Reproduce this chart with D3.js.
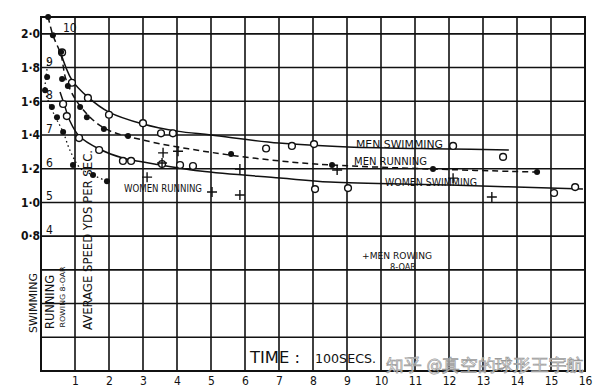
<!DOCTYPE html>
<html>
<head>
<meta charset="utf-8">
<script src="https://cdn.jsdelivr.net/npm/d3@7"></script>
<style>
  body { margin: 0; background: #fff; }
  text { font-family: "DejaVu Sans Condensed", "DejaVu Sans", sans-serif; fill: #111; }
</style>
</head>
<body>
<svg width="600" height="392"></svg>
<script>
// time in units of 100 secs; swimming speeds on the outer scale, running / rowing on the inner one
var timeTicks = [1, 2, 3, 4, 5, 6, 7, 8, 9, 10, 11, 12, 13, 14, 15, 16];
var swimTicks = [0.8, 1.0, 1.2, 1.4, 1.6, 1.8, 2.0];
var runTicks = [4, 5, 6, 7, 8, 9, 10];

var menSwimming = [[0.62, 1.89], [0.91, 1.71], [1.38, 1.62], [2.0, 1.52], [3.0, 1.47], [3.53, 1.41],
  [3.88, 1.41], [6.62, 1.32], [7.38, 1.335], [8.03, 1.346], [12.12, 1.335], [13.59, 1.27]];
var menSwimCurve = [[0.56, 1.9], [0.91, 1.726], [1.38, 1.625], [2.0, 1.536], [3.0, 1.465], [4.0, 1.423],
  [5.0, 1.40], [7.0, 1.352], [9.03, 1.329], [12.03, 1.317], [13.76, 1.311]];

var womenSwimming = [[0.65, 1.584], [0.76, 1.512], [1.12, 1.382], [1.71, 1.311], [2.41, 1.246], [2.65, 1.246],
  [3.56, 1.228], [4.09, 1.222], [4.47, 1.216], [8.06, 1.079], [9.03, 1.085], [15.09, 1.056], [15.71, 1.091]];
var womenSwimCurve = [[0.56, 1.655], [0.68, 1.584], [0.85, 1.483], [1.12, 1.394], [1.71, 1.317], [2.41, 1.263],
  [3.0, 1.24], [4.68, 1.186], [7.03, 1.145], [8.5, 1.121], [12.03, 1.103], [15.94, 1.079]];

var menRunning = [[0.21, 10.5], [0.35, 9.96], [0.59, 9.46], [0.62, 8.66], [0.79, 8.45], [1.15, 7.83],
  [1.35, 7.53], [1.85, 7.18], [2.56, 6.97], [5.59, 6.44], [8.56, 6.11], [11.53, 5.99], [14.59, 5.9]];
var menRunCurve = [[0.21, 10.5], [0.35, 9.96], [0.59, 9.37], [0.74, 8.63], [1.15, 7.86], [1.85, 7.21],
  [3.0, 6.85], [4.97, 6.49], [7.03, 6.23], [8.56, 6.11], [11.53, 5.99], [14.59, 5.9]];

var womenRunning = [[0.18, 8.72], [0.12, 8.33], [0.32, 7.83], [0.47, 7.53], [0.65, 7.09], [0.94, 6.11],
  [1.53, 5.81], [1.94, 5.63]];
var womenRunCurve = [[0.21, 9.22], [0.15, 8.72], [0.12, 8.33], [0.26, 7.89], [0.44, 7.5], [0.65, 7.09],
  [0.85, 6.55], [1.15, 6.02], [1.53, 5.81], [1.94, 5.63]];

var menRowing = [[3.12, 5.75], [3.59, 6.47], [3.56, 6.17], [4.03, 6.52], [5.03, 5.31], [5.85, 5.99],
  [5.85, 5.22], [8.71, 5.96], [12.12, 5.72], [13.26, 5.16]];

var svg = d3.select("svg");
var plotLeft = 41, plotRight = 585, plotTop = 17, plotBottom = 371;

var x = d3.scaleLinear().domain([0, 16]).range([plotLeft, plotRight]);
var ySwim = d3.scaleLinear().domain([0, 2.1]).range([plotBottom, plotTop]);
var yRun = d3.scaleLinear().domain([0, 10.5]).range([plotBottom, plotTop]);

var ink = "#111";

// grid
var grid = svg.append("g").attr("stroke", ink).attr("stroke-width", 1.6);
grid.selectAll(".v").data(d3.range(1, 16)).enter().append("line")
  .attr("x1", function(d) { return x(d); }).attr("x2", function(d) { return x(d); })
  .attr("y1", plotTop).attr("y2", plotBottom);
grid.selectAll(".h").data(d3.range(1, 11).map(function(d) { return d * 0.2; })).enter().append("line")
  .attr("x1", plotLeft).attr("x2", plotRight)
  .attr("y1", function(d) { return ySwim(d); }).attr("y2", function(d) { return ySwim(d); });
grid.append("rect").attr("x", plotLeft).attr("y", plotTop)
  .attr("width", plotRight - plotLeft).attr("height", plotBottom - plotTop)
  .attr("fill", "none").attr("stroke-width", 2);

// axes
var xAxis = svg.append("g")
  .attr("transform", "translate(0," + plotBottom + ")")
  .call(d3.axisBottom(x).tickValues(timeTicks).tickSize(0).tickPadding(5).tickFormat(d3.format("d")));
xAxis.select(".domain").remove();
xAxis.selectAll("text").attr("font-size", 12).attr("fill", ink);

var yAxis = svg.append("g")
  .attr("transform", "translate(" + plotLeft + ",0)")
  .call(d3.axisLeft(ySwim).tickValues(swimTicks).tickSize(0).tickPadding(1)
    .tickFormat(function(d) { return d.toFixed(1).replace(".", "·"); }));
yAxis.select(".domain").remove();
yAxis.selectAll("text").attr("font-size", 12).attr("font-weight", "bold").attr("fill", ink);

svg.append("g").selectAll("text").data(runTicks).enter().append("text")
  .attr("x", function(d) { return d === 10 ? 63 : 46; })
  .attr("y", function(d) { return yRun(d) - 2; })
  .attr("font-size", 12)
  .text(function(d) { return d; });

// curves
var lineSwim = d3.line().x(function(d) { return x(d[0]); }).y(function(d) { return ySwim(d[1]); })
  .curve(d3.curveCatmullRom);
var lineRun = d3.line().x(function(d) { return x(d[0]); }).y(function(d) { return yRun(d[1]); })
  .curve(d3.curveCatmullRom);

svg.append("path").datum(menSwimCurve).attr("d", lineSwim)
  .attr("fill", "none").attr("stroke", ink).attr("stroke-width", 1.5);
svg.append("path").datum(womenSwimCurve).attr("d", lineSwim)
  .attr("fill", "none").attr("stroke", ink).attr("stroke-width", 1.5);
svg.append("path").datum(menRunCurve).attr("d", lineRun)
  .attr("fill", "none").attr("stroke", ink).attr("stroke-width", 1.5).attr("stroke-dasharray", "6,4");
svg.append("path").datum(womenRunCurve).attr("d", lineRun)
  .attr("fill", "none").attr("stroke", ink).attr("stroke-width", 1.3).attr("stroke-dasharray", "1.5,3");

// points
function openCircles(data, y) {
  svg.append("g").selectAll("circle").data(data).enter().append("circle")
    .attr("cx", function(d) { return x(d[0]); }).attr("cy", function(d) { return y(d[1]); })
    .attr("r", 3.4).attr("fill", "#fff").attr("stroke", ink).attr("stroke-width", 1.4);
}
function dots(data, y) {
  svg.append("g").selectAll("circle").data(data).enter().append("circle")
    .attr("cx", function(d) { return x(d[0]); }).attr("cy", function(d) { return y(d[1]); })
    .attr("r", 3).attr("fill", ink);
}
openCircles(menSwimming, ySwim);
openCircles(womenSwimming, ySwim);
dots(menRunning, yRun);
dots(womenRunning, yRun);

svg.append("g").selectAll("path").data(menRowing).enter().append("path")
  .attr("d", function(d) {
    var cx = x(d[0]), cy = yRun(d[1]);
    return "M" + (cx - 5) + "," + cy + "H" + (cx + 5) + "M" + cx + "," + (cy - 5) + "V" + (cy + 5);
  })
  .attr("stroke", ink).attr("stroke-width", 1.4);

// labels
function label(t, xx, yy, size, len) {
  return svg.append("text").attr("x", xx).attr("y", yy).attr("font-size", size)
    .attr("textLength", len).attr("lengthAdjust", "spacingAndGlyphs").text(t);
}
label("MEN SWIMMING", 356, 148, 10, 87);
label("MEN RUNNING", 354, 165, 10, 73);
label("WOMEN SWIMMING", 385, 186, 10, 92);
label("WOMEN RUNNING", 124, 192, 10, 78);
label("+MEN ROWING", 362, 259, 8.5, 70);
label("8-OAR", 390, 270, 8, 26);
label("TIME :", 250, 363, 15, 50);
label("100SECS.", 315, 363, 11.5, 61);

function vlabel(t, cx, cy, size, len) {
  svg.append("text").attr("transform", "translate(" + cx + "," + cy + ") rotate(-90)")
    .attr("text-anchor", "middle").attr("font-size", size)
    .attr("textLength", len).attr("lengthAdjust", "spacingAndGlyphs").text(t);
}
vlabel("SWIMMING", 37, 303, 11, 60);
vlabel("RUNNING", 54, 302, 12, 54);
vlabel("ROWING 8-OAR", 65, 297, 7, 61);
vlabel("AVERAGE  SPEED  YDS  PER SEC.", 92, 240, 13, 180);

// watermark
svg.append("text").attr("x", 386).attr("y", 371)
  .attr("font-family", "Noto Sans CJK SC").attr("font-size", 17)
  .attr("textLength", 198).attr("lengthAdjust", "spacingAndGlyphs")
  .style("fill", "#fff").attr("fill-opacity", 0.7).attr("stroke", "#9a9a9a").attr("stroke-width", 0.7)
  .text("知乎 @真空的球形王宇航");
</script>
</body>
</html>
